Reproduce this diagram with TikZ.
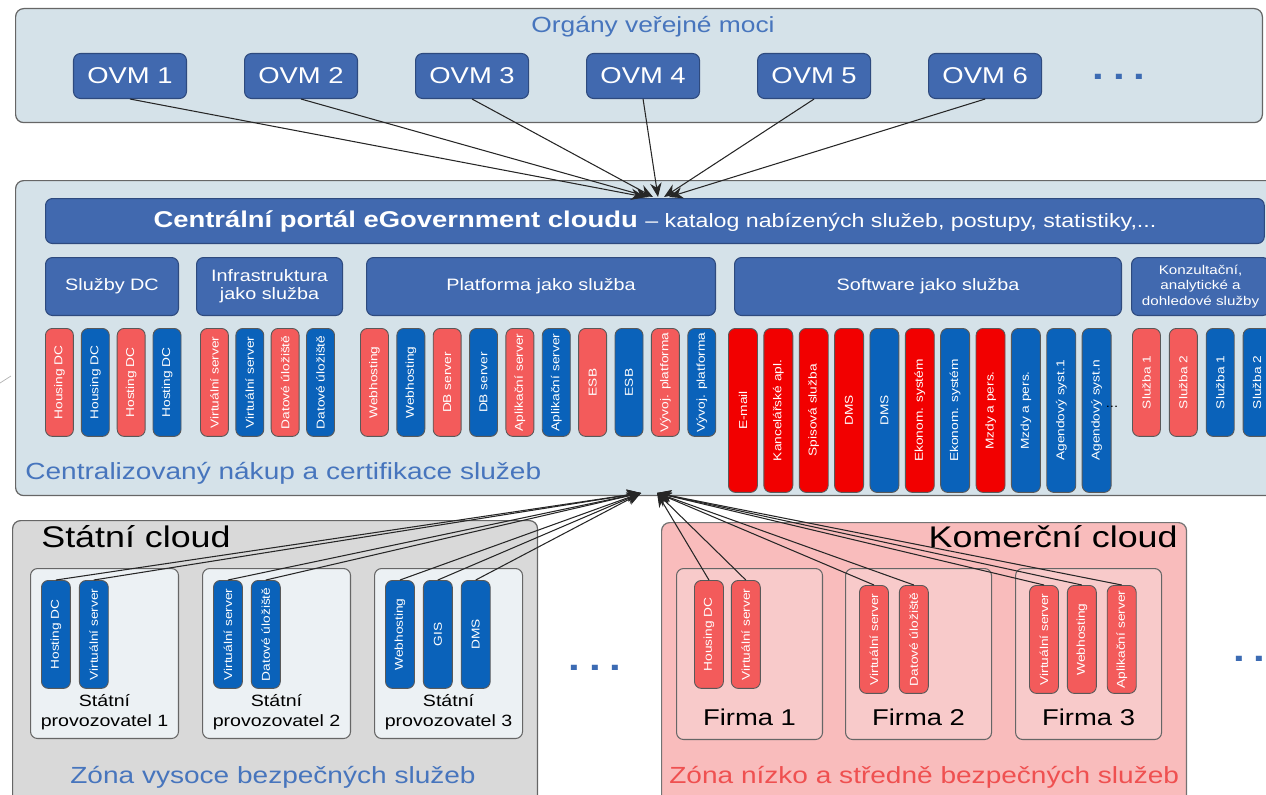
\documentclass[tikz,border=0pt]{standalone}
\usepackage{fontspec}
\setmainfont{Liberation Sans}[FakeStretch=1.2]
\usetikzlibrary{positioning,arrows.meta}

\definecolor{bandfill}{HTML}{D5E2E9}
\definecolor{boxblue}{HTML}{4169AF}
\definecolor{boxline}{HTML}{2E4A7E}
\definecolor{barblue}{HTML}{0A62BA}
\definecolor{barred}{HTML}{F35B5B}
\definecolor{barRED}{HTML}{F20000}
\definecolor{titleblue}{HTML}{4775BD}
\definecolor{statgray}{HTML}{D9D9D9}
\definecolor{provbg}{HTML}{ECF1F4}
\definecolor{komfill}{HTML}{F9BCBC}
\definecolor{firmfill}{HTML}{F8CACA}
\definecolor{zonered}{HTML}{EF5050}
\definecolor{dotblue}{HTML}{3C6BB3}

\begin{document}
\begin{tikzpicture}[x=0.02cm,y=-0.02cm,
band/.style={draw=black!60,fill=bandfill,rounded corners=0.16cm,line width=0.7pt,anchor=north west},
blubox/.style={draw=boxline,fill=boxblue,rounded corners=0.14cm,text=white,align=center,inner sep=1pt,line width=0.6pt},
ovmbox/.style={blubox,minimum width=2.26cm,minimum height=0.9cm,font=\fontsize{13}{15}\selectfont},
hdrbox/.style={blubox,minimum height=1.16cm,font=\fontsize{9.4}{10.4}\selectfont},
bar/.style={draw=black!65,rounded corners=0.14cm,minimum width=0.56cm,minimum height=2.16cm,inner sep=0pt,text=white,line width=0.5pt,font=\fontsize{6.5}{7}\selectfont},
redbar/.style={bar,fill=barred},
bluebar/.style={bar,fill=barblue},
swred/.style={bar,fill=barRED,minimum width=0.58cm,minimum height=3.28cm},
swblue/.style={bar,fill=barblue,minimum width=0.58cm,minimum height=3.28cm},
stbar/.style={bar,fill=barblue,minimum width=0.58cm},
fmbar/.style={bar,fill=barred,minimum width=0.58cm},
opbox/.style={draw=black!60,rounded corners=0.14cm,line width=0.6pt,anchor=north west,minimum width=2.96cm,minimum height=3.4cm},
oplabel/.style={inner sep=0pt,align=center,font=\fontsize{9.3}{11.3}\selectfont},
firmlabel/.style={inner sep=0pt,font=\fontsize{13}{15}\selectfont},
zone/.style={inner sep=0pt,font=\fontsize{13.3}{15}\selectfont},
dots/.style={inner sep=0pt,text=dotblue,font=\fontsize{20}{20}\selectfont\bfseries},
link/.style={draw=black!85,line width=0.6pt,-{Stealth[length=8pt,width=6.5pt]}}]

\useasboundingbox (0,0) rectangle (1266,794);
\clip (0,0) rectangle (1266,794);

% organy verejne moci
\node (organy) [band,minimum width=24.94cm,minimum height=2.28cm] at (15,8) {};
\node (organytitle) [zone,text=titleblue,font=\fontsize{12.5}{14}\selectfont] at (653,27) {Orgány veřejné moci};
\node (ovm1) [ovmbox] at (130,76) {OVM 1};
\node (ovm2) [ovmbox,right=1.14cm of ovm1] {OVM 2};
\node (ovm3) [ovmbox,right=1.14cm of ovm2] {OVM 3};
\node (ovm4) [ovmbox,right=1.14cm of ovm3] {OVM 4};
\node (ovm5) [ovmbox,right=1.14cm of ovm4] {OVM 5};
\node (ovm6) [ovmbox,right=1.14cm of ovm5] {OVM 6};
\node (ovmdots) [dots] at (1119,77) {.\kern5pt.\kern5pt.};

% centralni portal
\node (stred) [band,minimum width=25.3cm,minimum height=6.3cm] at (15,180) {};
\node (portal) [blubox,anchor=north west,minimum width=24.38cm,minimum height=0.9cm,font=\fontsize{13}{15}\selectfont] at (45,198)
  {\textbf{Centrální portál eGovernment cloudu} {\fontsize{11}{13}\selectfont – katalog nabízených služeb, postupy, statistiky,...}};

\node (sluzbydc) [hdrbox,anchor=north west,minimum width=2.66cm] at (45,257) {Služby DC};
\node (infra) [hdrbox,minimum width=2.92cm,right=0.34cm of sluzbydc] {Infrastruktura\\jako služba};
\node (platforma) [hdrbox,minimum width=6.98cm,right=0.46cm of infra] {Platforma jako služba};
\node (software) [hdrbox,minimum width=7.74cm,right=0.36cm of platforma] {Software jako služba};
\node (konzult) [hdrbox,minimum width=2.76cm,right=0.18cm of software,font=\fontsize{7.2}{8.8}\selectfont] {Konzultační,\\analytické a\\dohledové služby};

\node (dc1) [redbar,anchor=north west] at (45,328) {\rotatebox{90}{Housing DC}};
\node (dc2) [bluebar,right=0.14cm of dc1] {\rotatebox{90}{Housing DC}};
\node (dc3) [redbar,right=0.14cm of dc2] {\rotatebox{90}{Hosting DC}};
\node (dc4) [bluebar,right=0.14cm of dc3] {\rotatebox{90}{Hosting DC}};

\node (ia1) [redbar,anchor=north west] at (200,328) {\rotatebox{90}{Virtuální server}};
\node (ia2) [bluebar,right=0.13cm of ia1] {\rotatebox{90}{Virtuální server}};
\node (ia3) [redbar,right=0.13cm of ia2] {\rotatebox{90}{Datové úložiště}};
\node (ia4) [bluebar,right=0.13cm of ia3] {\rotatebox{90}{Datové úložiště}};

\node (pl1) [redbar,anchor=north west] at (360,328) {\rotatebox{90}{Webhosting}};
\node (pl2) [bluebar,right=0.15cm of pl1] {\rotatebox{90}{Webhosting}};
\node (pl3) [redbar,right=0.15cm of pl2] {\rotatebox{90}{DB server}};
\node (pl4) [bluebar,right=0.15cm of pl3] {\rotatebox{90}{DB server}};
\node (pl5) [redbar,right=0.15cm of pl4] {\rotatebox{90}{Aplikační server}};
\node (pl6) [bluebar,right=0.15cm of pl5] {\rotatebox{90}{Aplikační server}};
\node (pl7) [redbar,right=0.15cm of pl6] {\rotatebox{90}{ESB}};
\node (pl8) [bluebar,right=0.15cm of pl7] {\rotatebox{90}{ESB}};
\node (pl9) [redbar,right=0.15cm of pl8] {\rotatebox{90}{Vývoj. platforma}};
\node (pl10) [bluebar,right=0.15cm of pl9] {\rotatebox{90}{Vývoj. platforma}};

\node (sw1) [swred,anchor=north west] at (728,328) {\rotatebox{90}{E-mail}};
\node (sw2) [swred,right=0.11cm of sw1] {\rotatebox{90}{Kancelářské apl.}};
\node (sw3) [swred,right=0.11cm of sw2] {\rotatebox{90}{Spisová služba}};
\node (sw4) [swred,right=0.11cm of sw3] {\rotatebox{90}{DMS}};
\node (sw5) [swblue,right=0.11cm of sw4] {\rotatebox{90}{DMS}};
\node (sw6) [swred,right=0.11cm of sw5] {\rotatebox{90}{Ekonom. systém}};
\node (sw7) [swblue,right=0.11cm of sw6] {\rotatebox{90}{Ekonom. systém}};
\node (sw8) [swred,right=0.11cm of sw7] {\rotatebox{90}{Mzdy a pers.}};
\node (sw9) [swblue,right=0.11cm of sw8] {\rotatebox{90}{Mzdy a pers.}};
\node (sw10) [swblue,right=0.11cm of sw9] {\rotatebox{90}{Agendový syst.1}};
\node (sw11) [swblue,right=0.11cm of sw10] {\rotatebox{90}{Agendový syst.n}};
\node (swdots) [inner sep=0pt,font=\fontsize{7}{7}\selectfont] at (1112,407) {...};

\node (ko1) [redbar,anchor=north west] at (1132,328) {\rotatebox{90}{Služba 1}};
\node (ko2) [redbar,right=0.16cm of ko1] {\rotatebox{90}{Služba 2}};
\node (ko3) [bluebar,right=0.16cm of ko2] {\rotatebox{90}{Služba 1}};
\node (ko4) [bluebar,right=0.16cm of ko3] {\rotatebox{90}{Služba 2}};

\node (nakup) [zone,text=titleblue,anchor=west] at (25,473) {Centralizovaný nákup a certifikace služeb};
\draw [gray!60] (0,383) -- (11,376);

% statni cloud
\node (statni) [band,fill=statgray,minimum width=10.5cm,minimum height=5.8cm] at (12,520) {};
\node (statnititle) [inner sep=0pt,anchor=west,font=\fontsize{17}{19}\selectfont] at (41,537) {Státní cloud};
\node (sp1) [opbox,fill=provbg] at (30,568) {};
\node (sp2) [opbox,fill=provbg,right=0.46cm of sp1] {};
\node (sp3) [opbox,fill=provbg,right=0.46cm of sp2] {};
\node (sp1a) [stbar,anchor=north west] at ([shift={(11,12)}]sp1.north west) {\rotatebox{90}{Hosting DC}};
\node (sp1b) [stbar,right=0.16cm of sp1a] {\rotatebox{90}{Virtuální server}};
\node (sp2a) [stbar,anchor=north west] at ([shift={(11,12)}]sp2.north west) {\rotatebox{90}{Virtuální server}};
\node (sp2b) [stbar,right=0.16cm of sp2a] {\rotatebox{90}{Datové úložiště}};
\node (sp3a) [stbar,anchor=north west] at ([shift={(11,12)}]sp3.north west) {\rotatebox{90}{Webhosting}};
\node (sp3b) [stbar,right=0.16cm of sp3a] {\rotatebox{90}{GIS}};
\node (sp3c) [stbar,right=0.16cm of sp3b] {\rotatebox{90}{DMS}};
\node (sp1label) [oplabel,above=0.18cm of sp1.south] {Státní\\provozovatel 1};
\node (sp2label) [oplabel,above=0.18cm of sp2.south] {Státní\\provozovatel 2};
\node (sp3label) [oplabel,above=0.18cm of sp3.south] {Státní\\provozovatel 3};
\node (zonavys) [zone,text=titleblue,anchor=west] at (70,777) {Zóna vysoce bezpečných služeb};
\node (stdots) [dots] at (595,668) {.\kern5pt.\kern5pt.};

% komercni cloud
\node (komercni) [band,draw=black!55,fill=komfill,minimum width=10.5cm,minimum height=5.8cm] at (661,522) {};
\node (komtitle) [inner sep=0pt,anchor=east,font=\fontsize{17}{19}\selectfont] at (1178,537) {Komerční cloud};
\node (f1) [opbox,fill=firmfill,minimum width=2.92cm,minimum height=3.42cm] at (676,568) {};
\node (f2) [opbox,fill=firmfill,minimum width=2.92cm,minimum height=3.42cm,right=0.44cm of f1] {};
\node (f3) [opbox,fill=firmfill,minimum width=2.92cm,minimum height=3.42cm,right=0.46cm of f2] {};
\node (f1a) [fmbar,anchor=north west] at ([shift={(18,12)}]f1.north west) {\rotatebox{90}{Housing DC}};
\node (f1b) [fmbar,right=0.14cm of f1a] {\rotatebox{90}{Virtuální server}};
\node (f2a) [fmbar,anchor=north west] at ([shift={(14,17)}]f2.north west) {\rotatebox{90}{Virtuální server}};
\node (f2b) [fmbar,right=0.2cm of f2a] {\rotatebox{90}{Datové úložiště}};
\node (f3a) [fmbar,anchor=north west] at ([shift={(14,17)}]f3.north west) {\rotatebox{90}{Virtuální server}};
\node (f3b) [fmbar,right=0.16cm of f3a] {\rotatebox{90}{Webhosting}};
\node (f3c) [fmbar,right=0.2cm of f3b] {\rotatebox{90}{Aplikační server}};
\node (f1label) [firmlabel,above=0.28cm of f1.south] {Firma 1};
\node (f2label) [firmlabel,above=0.28cm of f2.south] {Firma 2};
\node (f3label) [firmlabel,above=0.28cm of f3.south] {Firma 3};
\node (zonanis) [zone,text=zonered,anchor=west] at (669,777) {Zóna nízko a středně bezpečných služeb};
\node (komdots) [dots,anchor=west] at (1233,659) {.\kern5pt.};

% arrows
\foreach \i/\x in {1/645,2/649,3/653,4/658,5/664,6/669}
  \coordinate (hub\i) at (\x,197);
\foreach \i in {1,...,6}
  \draw [link] (ovm\i.south) -- (hub\i);
\coordinate (shub) at (641,493);
\coordinate (khub) at (657,493);
\foreach \b in {sp1a,sp1b,sp2a,sp2b,sp3a,sp3b,sp3c}
  \draw [link] (\b.north) -- (shub);
\foreach \b in {f1a,f1b,f2a,f2b,f3a,f3b,f3c}
  \draw [link] (\b.north) -- (khub);
\end{tikzpicture}
\end{document}
